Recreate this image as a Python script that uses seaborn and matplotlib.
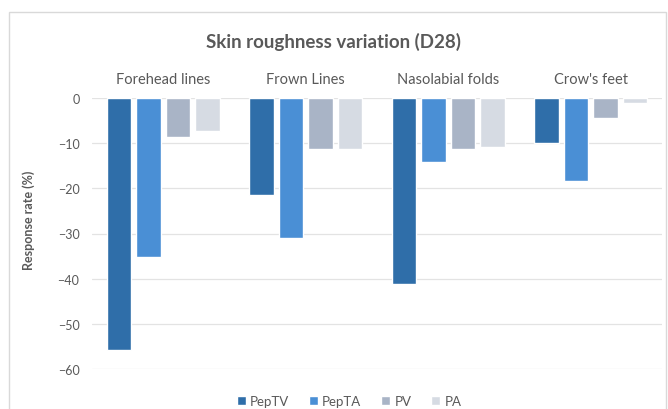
import pandas as pd
import seaborn as sns
import matplotlib.pyplot as plt
from matplotlib.patches import Rectangle

# values (% change at D28)
areas = ["Forehead lines", "Frown Lines", "Nasolabial folds", "Crow's feet"]
groups = ["PepTV", "PepTA", "PV", "PA"]
pep_tv = [-55.8, -21.5, -41.1, -9.9]
pep_ta = [-35.2, -31.1, -14.1, -18.4]
pv = [-8.7, -11.4, -11.4, -4.4]
pa = [-7.2, -11.4, -10.8, -1.2]

colors = ["#2f6ea9", "#4a8fd5", "#a9b4c6", "#d6dbe3"]

df = pd.DataFrame({
    "area": areas * 4,
    "group": [g for g in groups for _ in areas],
    "value": pep_tv + pep_ta + pv + pa,
})

sns.set_theme(style="white")
plt.rcParams["font.family"] = ["Lato", "DejaVu Sans"]
txt = "#595959"

fig = plt.figure(figsize=(6.68, 4.10), dpi=100)
ax = fig.add_axes([92 / 668, 1 - 370 / 410, (662 - 92) / 668, (370 - 99) / 410])

sns.barplot(data=df, x="area", y="value", hue="group", order=areas,
            hue_order=groups, palette=colors, width=0.83, gap=0.18,
            saturation=1, ax=ax, legend=True)

ax.set_ylim(-60, 0)
ax.set_xlim(-0.5, 3.5)
ax.set_yticks(range(-60, 1, 10))
ax.yaxis.grid(True, color="#e3e3e3", linewidth=0.9)
ax.set_axisbelow(True)
for s in ax.spines.values():
    s.set_visible(False)

# category labels sit on top, like the Excel original
ax.xaxis.tick_top()
ax.tick_params(axis="x", length=0, pad=9, labelsize=10.5, labelcolor=txt)
ax.tick_params(axis="y", length=0, pad=9, labelsize=9, labelcolor=txt)
ax.set_xlabel("")
ax.set_ylabel("Response rate (%)", fontsize=9, color=txt, fontweight="bold")
ax.yaxis.set_label_coords(-0.10, 0.553)

fig.text(0.5, 1 - 42 / 410, "Skin roughness variation (D28)", ha="center", va="center",
         fontsize=13.5, fontweight="bold", color=txt)

ax.legend(loc="center", bbox_to_anchor=(349 / 668, 1 - 402 / 410),
          bbox_transform=fig.transFigure, ncol=4, frameon=False, fontsize=9.5,
          handlelength=0.7, handleheight=0.7, handletextpad=0.3, columnspacing=1.5,
          labelcolor=txt)

# light frame around the chart area
fig.patches.append(Rectangle((9 / 668, -0.02), 657 / 668, 1 - 13 / 410 + 0.02,
                             transform=fig.transFigure, fill=False,
                             edgecolor="#d9d9d9", linewidth=1))

fig.savefig("out.png", dpi=100)
